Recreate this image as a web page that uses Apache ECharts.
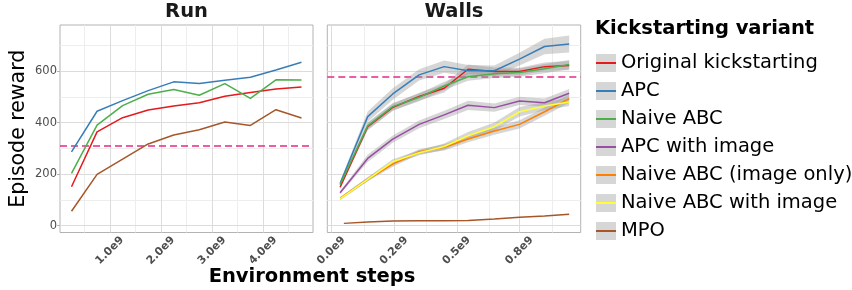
<!DOCTYPE html>
<html>
<head>
<meta charset="utf-8">
<script src="https://cdn.jsdelivr.net/npm/echarts@6/dist/echarts.min.js"></script>
<style>
  html, body { margin: 0; padding: 0; background: #fff; }
  #chart { width: 852px; height: 290px; }
</style>
</head>
<body>
<div id="chart"></div>
<script>
// legend / series names
const variants = ['Original kickstarting', 'APC', 'Naive ABC', 'APC with image',
    'Naive ABC (image only)', 'Naive ABC with image', 'MPO'];
const colors = ['#e41a1c', '#377eb8', '#4daf4a', '#984ea3', '#ff7f00', '#ffff33', '#a65628'];

// Run panel (x in units of 1e9 steps)
const runX = [0.25, 0.75, 1.25, 1.75, 2.25, 2.75, 3.25, 3.75, 4.25, 4.75];
const runOriginal = [151, 364, 419, 449, 464, 477, 502, 517, 530, 538];
const runAPC = [286, 444, 485, 524, 558, 552, 564, 576, 604, 634];
const runNaiveABC = [203, 390, 466, 510, 528, 506, 551, 494, 566, 565];
const runMPO = [56, 199, 258, 317, 352, 372, 402, 389, 450, 418];
const runBaseline = 309;

// Walls panel
const wallsX = [0.035, 0.145, 0.245, 0.35, 0.45, 0.545, 0.65, 0.75, 0.85, 0.948];
const wallsOriginal = [149, 384, 459, 501, 533, 607, 598, 598, 617, 621];
const wallsAPC = [164, 423, 511, 585, 617, 601, 601, 646, 695, 705];
const wallsNaiveABC = [159, 387, 462, 498, 542, 578, 589, 594, 609, 625];
const wallsAPCImage = [128, 261, 336, 393, 430, 467, 458, 484, 477, 514];
const wallsNaiveImageOnly = [106, 180, 239, 287, 304, 336, 367, 393, 442, 493];
const wallsNaiveWithImage = [104, 180, 248, 283, 307, 349, 384, 442, 464, 480];
const wallsMPOX = [0.05, 0.145, 0.245, 0.35, 0.45, 0.545, 0.65, 0.75, 0.85, 0.948];
const wallsMPO = [9, 14, 18, 19, 19, 20, 26, 33, 38, 44];
const wallsBaseline = 578;

// half widths of the grey bands (Walls only)
const wallsOriginalSpread = [8, 14, 14, 15, 16, 18, 16, 15, 16, 18];
const wallsAPCSpread = [8, 20, 22, 22, 24, 22, 20, 25, 30, 33];
const wallsNaiveABCSpread = [8, 14, 14, 15, 16, 16, 16, 16, 18, 18];
const wallsAPCImageSpread = [6, 14, 14, 15, 16, 18, 16, 16, 16, 16];
const wallsNaiveImageOnlySpread = [5, 8, 10, 10, 12, 12, 14, 16, 16, 16];
const wallsNaiveWithImageSpread = [5, 8, 10, 10, 12, 14, 16, 18, 16, 16];

// ticks
const yTicks = [0, 200, 400, 600];
const yMinor = [100, 300, 500, 700];
const runXTicks = [1, 2, 3, 4];
const runXLabels = ['1.0e9', '2.0e9', '3.0e9', '4.0e9'];
const runXMinor = [0.5, 1.5, 2.5, 3.5, 4.5];
const wallsXTicks = [0, 0.25, 0.5, 0.75];
const wallsXLabels = ['0.0e9', '0.2e9', '0.5e9', '0.8e9'];
const wallsXMinor = [0.125, 0.375, 0.625, 0.875];

const font = 'DejaVu Sans';
const majorColor = '#dcdcdc';
const minorColor = '#ededed';

const chart = echarts.init(document.getElementById('chart'));

function lineSeries(name, xs, ys, idx, extra) {
    const s = {
        type: 'line',
        name: name,
        xAxisIndex: idx,
        yAxisIndex: idx,
        data: xs.map((x, i) => [x, ys[i]]),
        symbol: 'none',
        z: 4,
        silent: true,
        lineStyle: { width: 1.5, color: colors[variants.indexOf(name)] },
        itemStyle: { color: colors[variants.indexOf(name)] }
    };
    return Object.assign(s, extra || {});
}

function bandSeries(name, xs, ys, spread) {
    const rows = xs.map((x, i) => [x, ys[i] - spread[i], ys[i] + spread[i]]);
    return {
        type: 'custom',
        name: name + ' band',
        xAxisIndex: 1,
        yAxisIndex: 1,
        z: 3,
        silent: true,
        data: rows,
        encode: { x: 0, y: [1, 2] },
        renderItem: function (params, api) {
            if (params.dataIndex !== 0) return null;
            const upper = rows.map(r => api.coord([r[0], r[2]]));
            const lower = rows.map(r => api.coord([r[0], r[1]])).reverse();
            return {
                type: 'polygon',
                shape: { points: upper.concat(lower) },
                style: { fill: 'rgba(153,153,153,0.4)' }
            };
        }
    };
}

function gridLines(xMajor, xMinor) {
    const data = [];
    xMinor.forEach(v => data.push({ xAxis: v, lineStyle: { color: minorColor } }));
    yMinor.forEach(v => data.push({ yAxis: v, lineStyle: { color: minorColor } }));
    xMajor.forEach(v => data.push({ xAxis: v, lineStyle: { color: majorColor } }));
    yTicks.forEach(v => data.push({ yAxis: v, lineStyle: { color: majorColor } }));
    return {
        markLine: {
            z: 1, silent: true, symbol: 'none', animation: false,
            label: { show: false },
            lineStyle: { type: 'solid', width: 1 },
            data: data
        }
    };
}

function baseline(v) {
    return {
        markLine: {
            z: 2, silent: true, symbol: 'none', animation: false,
            label: { show: false },
            lineStyle: { type: [7, 4], width: 1.5, color: '#e7298a' },
            data: [{ yAxis: v }]
        }
    };
}

function xAxisFor(idx, min, max, ticks, labels) {
    return {
        gridIndex: idx,
        type: 'value',
        min: min,
        max: max,
        axisLine: { show: false },
        splitLine: { show: false },
        axisTick: { show: true, customValues: ticks, length: 3, lineStyle: { color: '#b3b3b3' } },
        axisLabel: {
            customValues: ticks,
            rotate: 45,
            align: 'center',
            verticalAlign: 'middle',
            margin: 18,
            padding: [0, 0, 0, 0],
            fontFamily: font,
            fontWeight: 'bold',
            fontSize: 11,
            color: '#4d4d4d',
            formatter: function (v) {
                const k = ticks.indexOf(v);
                return k >= 0 ? labels[k] : '';
            }
        }
    };
}

const yMin = -26.4;
const yMax = 778.5;

// legend key: thin bar with invisible points so it keeps its place in the box
const keyLine = 'path://M0,0 M20,18 M0,8 L20,8 L20,10 L0,10 Z';

const option = {
    animation: false,
    backgroundColor: '#fff',
    title: [
        { text: 'Run', left: 186.5, top: 2, padding: 0, textAlign: 'center',
          textStyle: { fontFamily: font, fontSize: 19.5, fontWeight: 'bold', color: '#1a1a1a' } },
        { text: 'Walls', left: 454, top: 2, padding: 0, textAlign: 'center',
          textStyle: { fontFamily: font, fontSize: 19.5, fontWeight: 'bold', color: '#1a1a1a' } },
        { text: 'Environment steps', left: 312, top: 267, padding: 0, textAlign: 'center',
          textStyle: { fontFamily: font, fontSize: 19.5, fontWeight: 'bold', color: '#000' } },
        { text: 'Kickstarting variant', left: 595, top: 19, padding: 0,
          textStyle: { fontFamily: font, fontSize: 19.5, fontWeight: 'bold', color: '#000' } }
    ],
    grid: [
        { left: 60, top: 25, width: 253, height: 207.5, show: true, backgroundColor: '#fff',
          borderColor: '#b3b3b3', borderWidth: 1, containLabel: false },
        { left: 327.3, top: 25, width: 253.4, height: 207.5, show: true, backgroundColor: '#fff',
          borderColor: '#b3b3b3', borderWidth: 1, containLabel: false }
    ],
    legend: [
        {
            orient: 'vertical', left: 591, top: 48, itemWidth: 20, itemHeight: 18, itemGap: 8,
            selectedMode: false, icon: 'rect', z: 5,
            itemStyle: { color: '#d6d6d6', borderWidth: 0 },
            textStyle: { fontFamily: font, fontSize: 19.5, color: '#000' },
            data: variants
        },
        {
            orient: 'vertical', left: 591, top: 48, itemWidth: 20, itemHeight: 18, itemGap: 8,
            selectedMode: false, icon: keyLine, z: 6,
            itemStyle: { borderWidth: 0 },
            textStyle: { fontFamily: font, fontSize: 19.5, color: 'rgba(0,0,0,0)' },
            data: variants
        }
    ],
    xAxis: [
        xAxisFor(0, 0.025, 4.975, runXTicks, runXLabels),
        xAxisFor(1, -0.016, 0.994, wallsXTicks, wallsXLabels)
    ],
    yAxis: [
        {
            gridIndex: 0, type: 'value', min: yMin, max: yMax,
            axisLine: { show: false },
            splitLine: { show: false },
            axisTick: { show: true, customValues: yTicks, length: 3, lineStyle: { color: '#b3b3b3' } },
            axisLabel: { customValues: yTicks, margin: 3, fontFamily: font, fontSize: 11.5, color: '#4d4d4d' },
            name: 'Episode reward',
            nameLocation: 'middle',
            nameGap: 31,
            nameTextStyle: { fontFamily: font, fontSize: 20.5, color: '#000' }
        },
        {
            gridIndex: 1, type: 'value', min: yMin, max: yMax,
            axisLine: { show: false },
            splitLine: { show: false },
            axisTick: { show: false },
            axisLabel: { show: false }
        }
    ],
    series: [
        lineSeries('Original kickstarting', runX, runOriginal, 0, gridLines(runXTicks, runXMinor)),
        lineSeries('APC', runX, runAPC, 0),
        lineSeries('Naive ABC', runX, runNaiveABC, 0),
        lineSeries('MPO', runX, runMPO, 0, baseline(runBaseline)),

        bandSeries('Original kickstarting', wallsX, wallsOriginal, wallsOriginalSpread),
        bandSeries('APC', wallsX, wallsAPC, wallsAPCSpread),
        bandSeries('Naive ABC', wallsX, wallsNaiveABC, wallsNaiveABCSpread),
        bandSeries('APC with image', wallsX, wallsAPCImage, wallsAPCImageSpread),
        bandSeries('Naive ABC (image only)', wallsX, wallsNaiveImageOnly, wallsNaiveImageOnlySpread),
        bandSeries('Naive ABC with image', wallsX, wallsNaiveWithImage, wallsNaiveWithImageSpread),

        lineSeries('Original kickstarting', wallsX, wallsOriginal, 1, gridLines(wallsXTicks, wallsXMinor)),
        lineSeries('APC', wallsX, wallsAPC, 1),
        lineSeries('Naive ABC', wallsX, wallsNaiveABC, 1),
        lineSeries('APC with image', wallsX, wallsAPCImage, 1),
        lineSeries('Naive ABC (image only)', wallsX, wallsNaiveImageOnly, 1),
        lineSeries('Naive ABC with image', wallsX, wallsNaiveWithImage, 1),
        lineSeries('MPO', wallsMPOX, wallsMPO, 1, baseline(wallsBaseline))
    ]
};

chart.setOption(option);
window.addEventListener('resize', function () {
    chart.resize();
});
</script>
</body>
</html>
